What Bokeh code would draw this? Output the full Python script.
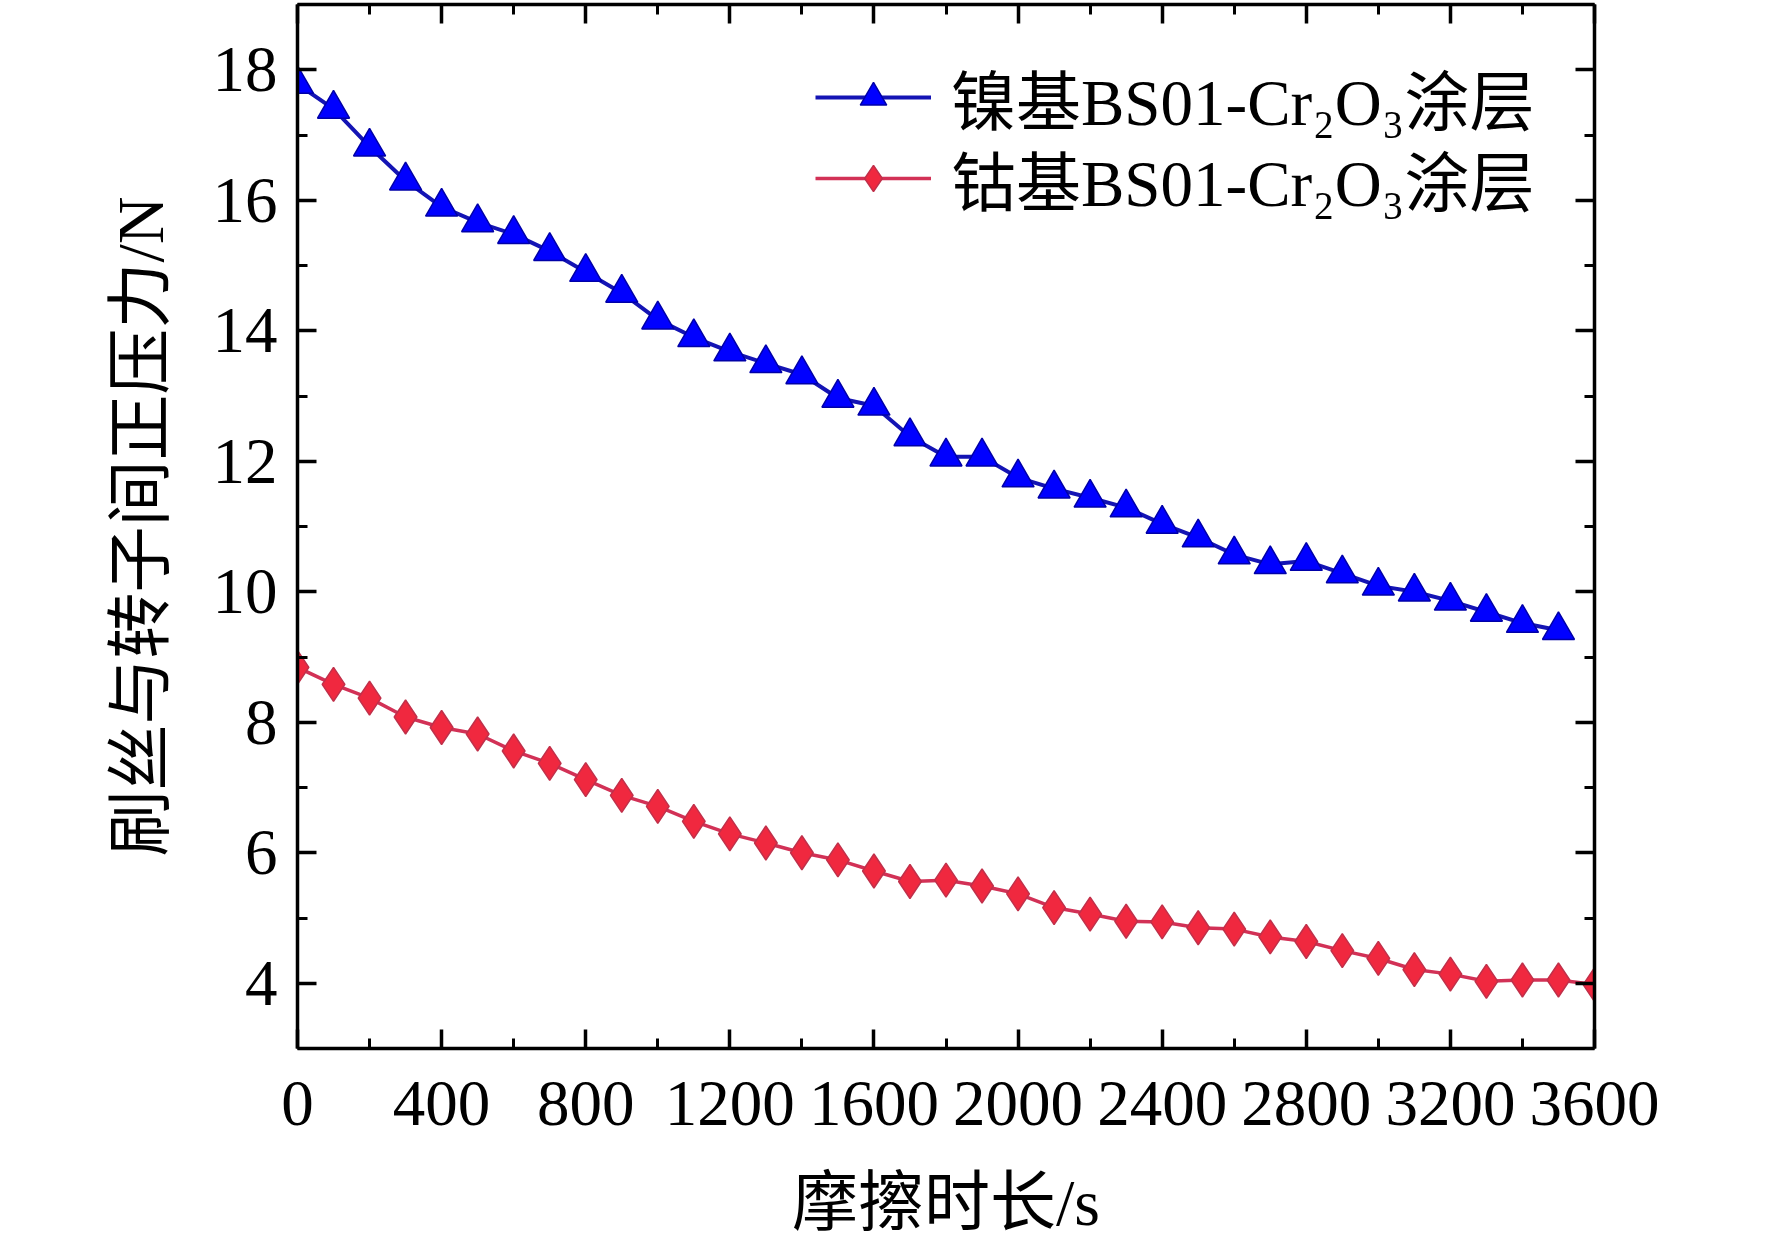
from bokeh.plotting import figure
from bokeh.models import Range1d, LinearAxis, FixedTicker, Legend, LegendItem
from bokeh.embed import file_html
from bokeh.resources import INLINE

# ---- data ----
time_ni = [0, 100, 200, 300, 400, 500, 600, 700, 800, 900, 1000, 1100, 1200,
           1300, 1400, 1500, 1600, 1700, 1800, 1900, 2000, 2100, 2200, 2300,
           2400, 2500, 2600, 2700, 2800, 2900, 3000, 3100, 3200, 3300, 3400, 3500]
force_ni = [17.78, 17.40, 16.82, 16.30, 15.90, 15.66, 15.48, 15.22, 14.90, 14.58,
            14.17, 13.90, 13.68, 13.50, 13.33, 12.97, 12.85, 12.38, 12.07, 12.07,
            11.75, 11.58, 11.44, 11.29, 11.04, 10.83, 10.57, 10.42, 10.47, 10.28,
            10.09, 10.00, 9.86, 9.69, 9.52, 9.41]

time_co = [0, 100, 200, 300, 400, 500, 600, 700, 800, 900, 1000, 1100, 1200,
           1300, 1400, 1500, 1600, 1700, 1800, 1900, 2000, 2100, 2200, 2300,
           2400, 2500, 2600, 2700, 2800, 2900, 3000, 3100, 3200, 3300, 3400, 3500, 3600]
force_co = [8.84, 8.58, 8.37, 8.08, 7.92, 7.82, 7.56, 7.37, 7.12, 6.88, 6.71,
            6.48, 6.29, 6.15, 6.00, 5.89, 5.72, 5.56, 5.58, 5.49, 5.37, 5.16,
            5.06, 4.95, 4.94, 4.85, 4.83, 4.71, 4.64, 4.50, 4.38, 4.21, 4.14,
            4.03, 4.05, 4.05, 3.98]

x_ticks = [0, 400, 800, 1200, 1600, 2000, 2400, 2800, 3200, 3600]
y_ticks = [4, 6, 8, 10, 12, 14, 16, 18]

label_ni = "镍基BS01-Cr₂O₃涂层"
label_co = "钴基BS01-Cr₂O₃涂层"
x_label = "摩擦时长/s"
y_label = "刷丝与转子间正压力/N"

FONT = "'Liberation Serif', 'Noto Sans CJK SC', serif"

FRAME_W, FRAME_H = 1297, 1044

x_minor = [(a + b) / 2 for a, b in zip(x_ticks[:-1], x_ticks[1:])]
y_minor = [(a + b) / 2 for a, b in zip(y_ticks[:-1], y_ticks[1:])] + [y_ticks[0] - 1, y_ticks[-1] + 1]

p = figure(frame_width=FRAME_W, frame_height=FRAME_H,
           min_border_left=297, min_border_right=162,
           min_border_top=4, min_border_bottom=187,
           x_range=Range1d(0, 3600), y_range=Range1d(3, 19),
           output_backend="svg", toolbar_location=None)
p.background_fill_color = "white"
p.border_fill_color = "white"
p.outline_line_color = None
p.xgrid.visible = False
p.ygrid.visible = False


def style_axis(ax, ticks, minor, show_labels):
    ax.ticker = FixedTicker(ticks=ticks, minor_ticks=minor)
    ax.axis_line_color = "black"
    ax.axis_line_width = 3.5
    ax.major_tick_line_width = 3.5
    ax.minor_tick_line_width = 3
    ax.major_tick_line_color = "black"
    ax.minor_tick_line_color = "black"
    ax.major_tick_in = 19
    ax.major_tick_out = 0
    ax.minor_tick_in = 10
    ax.minor_tick_out = 0
    if show_labels:
        ax.major_label_text_font = FONT
        ax.major_label_text_font_size = "65px"
        ax.major_label_text_color = "black"
        ax.axis_label_text_font = FONT
        ax.axis_label_text_font_size = "66px"
        ax.axis_label_text_font_style = "normal"
        ax.axis_label_text_color = "black"
    else:
        ax.major_label_overrides = {t: "" for t in ticks}
        ax.major_label_text_font_size = "0px"
        ax.major_label_standoff = 0
        ax.axis_label = None


xa = p.xaxis[0]
style_axis(xa, x_ticks, x_minor, True)
xa.axis_label = x_label
xa.major_label_standoff = 33
xa.axis_label_standoff = 38

ya = p.yaxis[0]
style_axis(ya, y_ticks, y_minor, True)
ya.axis_label = y_label
ya.major_label_standoff = 20
ya.axis_label_standoff = 33

top_ax = LinearAxis()
style_axis(top_ax, x_ticks, x_minor, False)
p.add_layout(top_ax, "above")
right_ax = LinearAxis()
style_axis(right_ax, y_ticks, y_minor, False)
p.add_layout(right_ax, "right")

# ---- series ----
ni_line = p.line(time_ni, force_ni, line_color="#1414b4", line_width=4)
ni_pts = p.scatter(time_ni, force_ni, marker="triangle", size=32,
                   fill_color="#0000ff", line_color="#0000a8", line_width=1.5)
co_line = p.line(time_co, force_co, line_color="#d23156", line_width=3.5)
co_pts = p.scatter(time_co, force_co, marker="diamond", size=34,
                   fill_color="#f0283f", line_color="#c0304a", line_width=1.5)


def make_legend(label, renderers, bottom_offset):
    # location tuple = bottom-left corner of the legend box, in frame pixels
    lg = Legend(items=[LegendItem(label=label, renderers=renderers)],
                location=(518, FRAME_H - bottom_offset))
    lg.label_text_font = FONT
    lg.label_text_font_size = "65px"
    lg.label_text_color = "black"
    lg.glyph_width = 116
    lg.glyph_height = 66
    lg.label_height = 62
    lg.label_standoff = 20
    lg.padding = 6
    lg.margin = 0
    lg.border_line_color = None
    lg.background_fill_alpha = 0
    return lg


p.add_layout(make_legend(label_ni, [ni_line, ni_pts], 140))
p.add_layout(make_legend(label_co, [co_line, co_pts], 221))

open("out.html", "w").write(file_html(p, INLINE))
